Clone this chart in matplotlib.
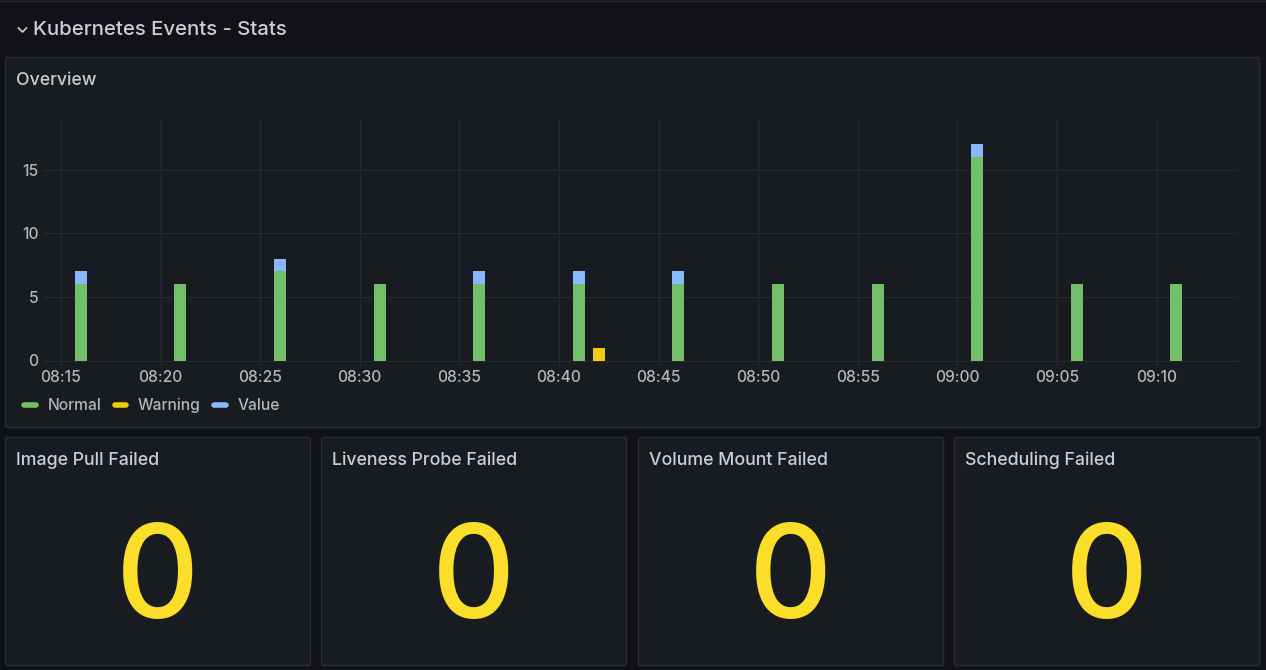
import pandas as pd
import matplotlib
matplotlib.use('Agg')
import matplotlib.pyplot as plt
import matplotlib.dates as mdates
from matplotlib.lines import Line2D
from matplotlib.patches import FancyBboxPatch

W, H = 1266, 670

# Data
times = ['08:16', '08:21', '08:26', '08:31', '08:36', '08:41', '08:42',
         '08:46', '08:51', '08:56', '09:01', '09:06', '09:11']
normal = [6, 6, 7, 6, 6, 6, 0, 6, 6, 6, 16, 6, 6]
warning = [0, 0, 0, 0, 0, 0, 1, 0, 0, 0, 0, 0, 0]
value = [1, 0, 1, 0, 1, 1, 0, 1, 0, 0, 1, 0, 0]
y_ticks = [0, 5, 10, 15]
x_ticks = ['08:15', '08:20', '08:25', '08:30', '08:35', '08:40',
           '08:45', '08:50', '08:55', '09:00', '09:05', '09:10']
stat_titles = ['Image Pull Failed', 'Liveness Probe Failed', 'Volume Mount Failed', 'Scheduling Failed']
stat_values = ['0', '0', '0', '0']

BG = '#111217'
PANEL = '#181b1f'
BORDER = '#2a2c31'
TITLE = '#ccccdc'
TICK = '#b4b5c0'
GRID = '#26292e'
GREEN = '#73bf69'
YELLOW = '#f2cc0c'
BLUE = '#8ab8ff'
STAT = '#fade2a'

plt.rcParams['font.family'] = ['Inter', 'DejaVu Sans']

def to_dates(labels):
    return pd.to_datetime(['2024-01-01 ' + t for t in labels])

fig = plt.figure(figsize=(W / 100, H / 100), dpi=100, facecolor=BG)

# Pixel coordinate layer for panels and titles
bg = fig.add_axes([0, 0, 1, 1])
bg.set_xlim(0, W)
bg.set_ylim(H, 0)
bg.axis('off')

def panel(x0, y0, x1, y1):
    bg.add_patch(FancyBboxPatch((x0, y0), x1 - x0, y1 - y0, boxstyle='round,pad=0,rounding_size=2',
                                fc=PANEL, ec=BORDER, lw=1))

bg.plot([0, W], [0.5, 0.5], color='#2a2c31', lw=1)
panel(5.5, 57.5, 1259.5, 427.5)
stat_boxes = [(5.5, 310.5), (321.5, 626.5), (638.5, 943.5), (954.5, 1259.5)]
for (x0, x1), name, val in zip(stat_boxes, stat_titles, stat_values):
    panel(x0, 437.5, x1, 665.5)
    bg.text(x0 + 10.5, 465, name, color=TITLE, fontsize=12.75, fontweight='medium', va='baseline', ha='left')
    bg.text((x0 + x1) / 2 - 0.5, 618, val, color=STAT, fontsize=93, fontweight='medium', va='baseline', ha='center')

# Row header
bg.plot([18.5, 22.5, 26.5], [28, 32, 28], color=TITLE, lw=1.2)
bg.text(33, 35, 'Kubernetes Events - Stats', color=TITLE, fontsize=14.65, fontweight='medium', va='baseline', ha='left')
bg.text(16, 85, 'Overview', color=TITLE, fontsize=12.75, fontweight='medium', va='baseline', ha='left')

# Bar chart
left, right, top, bottom = 44, 1238, 120, 360.5
ax = fig.add_axes([left / W, 1 - bottom / H, (right - left) / W, (bottom - top) / H], facecolor='none')

dates = to_dates(times)
width = 0.6 / 1440  # bar width of 0.6 minutes, in days
bottoms_w = list(normal)
bottoms_v = [n + w for n, w in zip(normal, warning)]
ax.bar(dates, normal, width=width, color=GREEN, zorder=3)
ax.bar(dates, warning, width=width, bottom=bottoms_w, color=YELLOW, zorder=3)
ax.bar(dates, value, width=width, bottom=bottoms_v, color=BLUE, zorder=3)

ax.set_xlim(mdates.date2num(to_dates(['08:15'])[0]) - 16.9 / 19.92 / 1440,
            mdates.date2num(to_dates(['08:15'])[0]) + (right - 60.9) / 19.92 / 1440)
ax.set_ylim(0, (bottom - top) / 12.73)
ax.set_yticks(y_ticks)
ax.set_xticks(to_dates(x_ticks))
ax.xaxis.set_major_formatter(mdates.DateFormatter('%H:%M'))
ax.tick_params(axis='x', colors=TICK, labelsize=11.2, length=4, color=GRID, pad=3)
ax.tick_params(axis='y', colors=TICK, labelsize=11.2, length=0, pad=4)
for lab in ax.get_xticklabels() + ax.get_yticklabels():
    lab.set_fontweight('medium')
ax.grid(True, color=GRID, lw=1, zorder=0)
ax.set_axisbelow(True)
for s in ax.spines.values():
    s.set_visible(False)
ax.spines['bottom'].set_visible(True)
ax.spines['bottom'].set_color(GRID)

handles = [Line2D([], [], color=c, lw=4, solid_capstyle='round') for c in (GREEN, YELLOW, BLUE)]
leg = bg.legend(handles, ['Normal', 'Warning', 'Value'], ncol=3, frameon=False,
                loc='center left', bbox_to_anchor=(10 / W, 1 - 405.5 / H),
                prop={'size': 11.2, 'weight': 'medium'}, labelcolor=TICK, handlelength=0.74,
                handletextpad=0.77, columnspacing=0.85, borderpad=0.4)

fig.savefig('out.png', dpi=100, facecolor=BG)
